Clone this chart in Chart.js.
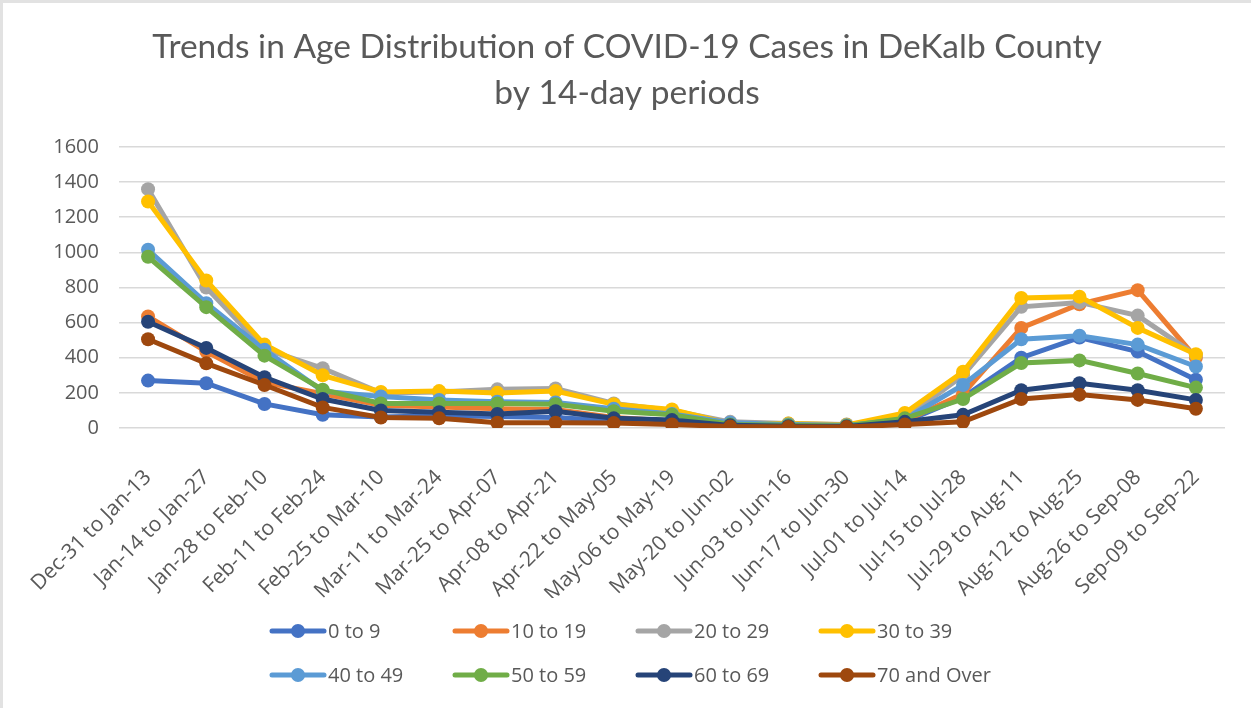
<!DOCTYPE html>
<html>
<head>
<meta charset="utf-8">
<script src="https://cdn.jsdelivr.net/npm/chart.js@4.4.1/dist/chart.umd.min.js"></script>
<style>
  html, body { margin: 0; padding: 0; background: #fff; }
  #wrap { width: 1248px; height: 705px; border-top: 3px solid #e2e2e2; border-left: 3px solid #e2e2e2; }
</style>
</head>
<body>
<div id="wrap"><canvas id="canvas" width="1248" height="705"></canvas></div>
<script>
// periods (x axis)
const periods = [
  "Dec-31 to Jan-13", "Jan-14 to Jan-27", "Jan-28 to Feb-10", "Feb-11 to Feb-24",
  "Feb-25 to Mar-10", "Mar-11 to Mar-24", "Mar-25 to Apr-07", "Apr-08 to Apr-21",
  "Apr-22 to May-05", "May-06 to May-19", "May-20 to Jun-02", "Jun-03 to Jun-16",
  "Jun-17 to Jun-30", "Jul-01 to Jul-14", "Jul-15 to Jul-28", "Jul-29 to Aug-11",
  "Aug-12 to Aug-25", "Aug-26 to Sep-08", "Sep-09 to Sep-22"
];

const ageGroups = ["0 to 9", "10 to 19", "20 to 29", "30 to 39", "40 to 49", "50 to 59", "60 to 69", "70 and Over"];

// cases per age group
const age0to9   = [270, 255, 137, 75, 62, 70, 65, 60, 40, 30, 15, 10, 8, 35, 175, 400, 515, 435, 275];
const age10to19 = [635, 435, 260, 195, 130, 120, 110, 105, 60, 40, 15, 10, 8, 40, 195, 570, 705, 785, 400];
const age20to29 = [1360, 800, 450, 340, 200, 205, 220, 225, 140, 100, 35, 25, 20, 55, 300, 690, 715, 640, 415];
const age30to39 = [1290, 840, 475, 300, 205, 210, 200, 210, 135, 105, 25, 25, 18, 85, 320, 740, 748, 570, 420];
const age40to49 = [1015, 711, 445, 210, 180, 160, 150, 145, 110, 80, 30, 20, 15, 50, 245, 505, 525, 475, 350];
const age50to59 = [975, 688, 412, 218, 140, 140, 140, 135, 95, 75, 20, 15, 12, 55, 165, 370, 385, 310, 230];
const age60to69 = [605, 456, 289, 165, 100, 90, 80, 95, 55, 45, 15, 10, 8, 35, 75, 215, 255, 215, 160];
const age70plus = [505, 368, 245, 117, 60, 55, 30, 30, 28, 20, 8, 5, 5, 20, 35, 165, 190, 160, 110];

const yTicks = [0, 200, 400, 600, 800, 1000, 1200, 1400, 1600];

const seriesData = [age0to9, age10to19, age20to29, age30to39, age40to49, age50to59, age60to69, age70plus];
const colors = ["#4472C4", "#ED7D31", "#A5A5A5", "#FFC000", "#5B9BD5", "#70AD47", "#264478", "#9E480E"];

const textColor = "#595959";

// legend in 4 columns x 2 rows, like the Excel one
const columnLegend = {
  id: "columnLegend",
  afterDraw(chart) {
    const ctx = chart.ctx;
    const startX = 267, colW = 183, rowY = [628, 672], lineLen = 56;
    ctx.save();
    ctx.font = "20px 'Open Sans'";
    ctx.textBaseline = "middle";
    ctx.textAlign = "left";
    chart.data.datasets.forEach((ds, i) => {
      const x = startX + (i % 4) * colW;
      const y = rowY[Math.floor(i / 4)];
      ctx.strokeStyle = ds.borderColor;
      ctx.lineWidth = 5;
      ctx.lineCap = "round";
      ctx.beginPath();
      ctx.moveTo(x + 2, y);
      ctx.lineTo(x + lineLen - 2, y);
      ctx.stroke();
      ctx.fillStyle = ds.borderColor;
      ctx.beginPath();
      ctx.arc(x + lineLen / 2, y, 7, 0, Math.PI * 2);
      ctx.fill();
      ctx.fillStyle = textColor;
      ctx.fillText(ds.label, x + lineLen + 2, y + 1);
    });
    ctx.restore();
  }
};

const ctx = document.getElementById("canvas").getContext("2d");

new Chart(ctx, {
  type: "line",
  data: {
    labels: periods,
    datasets: ageGroups.map((name, i) => ({
      label: name,
      data: seriesData[i],
      borderColor: colors[i],
      backgroundColor: colors[i],
      pointBackgroundColor: colors[i],
      pointBorderColor: colors[i],
      borderWidth: 5,
      pointRadius: 7,
      pointBorderWidth: 0,
      tension: 0,
      order: ageGroups.length - i
    }))
  },
  options: {
    responsive: false,
    animation: false,
    layout: { padding: { left: 26, right: 26, top: 0, bottom: 110 } },
    plugins: {
      legend: { display: false },
      tooltip: { enabled: false },
      title: {
        display: true,
        text: ["Trends in Age Distribution of COVID-19 Cases in DeKalb County", "by 14-day periods"],
        color: textColor,
        font: { family: "Lato", size: 33.5, weight: "normal", lineHeight: 1.373 },
        padding: { top: 21, bottom: 31 }
      }
    },
    scales: {
      x: {
        offset: true,
        grid: { display: false },
        border: { display: false },
        ticks: {
          color: textColor,
          font: { family: "Open Sans", size: 21 },
          minRotation: 45,
          maxRotation: 45,
          autoSkip: false,
          padding: 29
        },
        afterFit: (scale) => { scale.height = 170; }
      },
      y: {
        min: 0,
        max: 1600,
        afterBuildTicks: (scale) => { scale.ticks = yTicks.map(v => ({ value: v })); },
        grid: { color: "#d9d9d9", lineWidth: 1.5, drawTicks: false },
        border: { display: false },
        ticks: {
          color: textColor,
          font: { family: "Open Sans", size: 20 },
          padding: 20,
          callback: (v) => String(v)
        },
        afterFit: (scale) => { scale.width = 89; }
      }
    }
  },
  plugins: [columnLegend]
});
</script>
</body>
</html>
